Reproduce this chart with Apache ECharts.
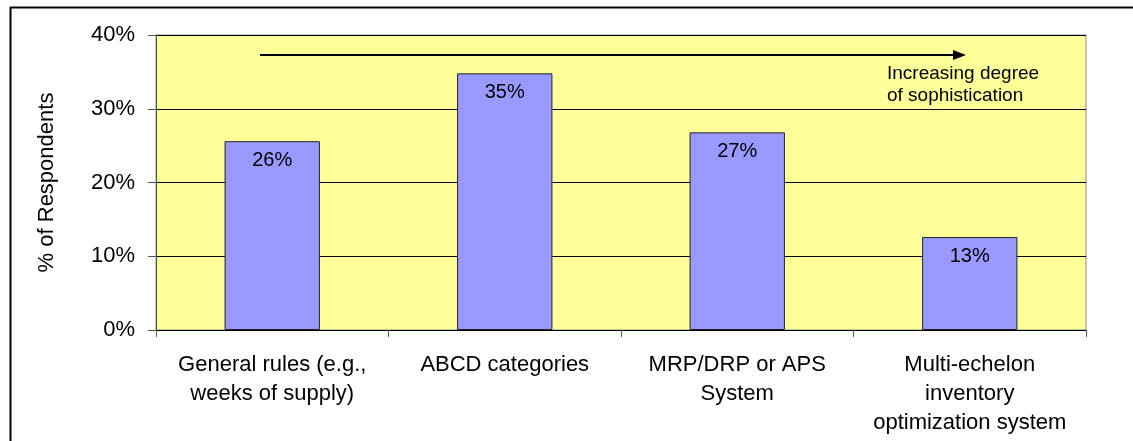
<!DOCTYPE html>
<html>
<head>
<meta charset="utf-8">
<style>
  html, body { margin: 0; padding: 0; background: #ffffff; }
  #chart { width: 1133px; height: 441px; }
</style>
<script src="https://cdn.jsdelivr.net/npm/echarts@6/dist/echarts.min.js"></script>
</head>
<body>
<div id="chart"></div>
<script>
// Inventory-planning approach used, share of respondents (%)
const categories = [
  'General rules (e.g.,\nweeks of supply)',
  'ABCD categories',
  'MRP/DRP or APS\nSystem',
  'Multi-echelon\ninventory\noptimization system'
];
const respondentShare = [25.6, 34.8, 26.8, 12.6];
const yTicks = [0, 10, 20, 30, 40];
const axisTitle = '% of Respondents';
const arrowNote = 'Increasing degree\nof sophistication';

const FONT = '"Liberation Sans", Arial, sans-serif';

const chart = echarts.init(document.getElementById('chart'), null, { renderer: 'canvas' });

chart.setOption({
  backgroundColor: '#ffffff',
  animation: false,
  textStyle: { fontFamily: FONT, color: '#000' },
  grid: {
    left: 156, right: 47, top: 35, bottom: 111,
    show: true,
    backgroundColor: '#FFFF99',
    borderColor: '#8c8c8c',
    borderWidth: 1
  },
  xAxis: {
    type: 'category',
    data: categories,
    boundaryGap: true,
    axisLine: { show: true, lineStyle: { color: '#000', width: 1 } },
    axisTick: { show: true, length: 7, lineStyle: { color: '#555' } },
    axisLabel: {
      interval: 0,
      margin: 20,
      fontSize: 22,
      lineHeight: 29,
      color: '#000',
      fontFamily: FONT,
      align: 'center',
      verticalAlign: 'top'
    }
  },
  yAxis: {
    type: 'value',
    min: yTicks[0],
    max: yTicks[yTicks.length - 1],
    interval: 10,
    name: axisTitle,
    nameLocation: 'middle',
    nameGap: 98,
    nameRotate: 90,
    nameTextStyle: { fontSize: 22, color: '#000', fontFamily: FONT },
    axisLine: { show: true, lineStyle: { color: '#555', width: 1 } },
    axisTick: { show: true, length: 8, lineStyle: { color: '#555' } },
    axisLabel: {
      margin: 21,
      fontSize: 22,
      color: '#000',
      fontFamily: FONT,
      formatter: v => v + '%'
    },
    splitLine: { show: true, lineStyle: { color: '#000', width: 1 } }
  },
  series: [{
    type: 'bar',
    data: respondentShare,
    barWidth: '41%',
    itemStyle: { color: '#9999FF', borderColor: '#222', borderWidth: 1 },
    label: {
      show: true,
      position: 'insideTop',
      distance: 9,
      fontSize: 20,
      color: '#000',
      fontFamily: FONT,
      formatter: p => Math.round(p.value) + '%'
    }
  }],
  graphic: [
    // frame around the chart (top and left edges)
    { type: 'line', shape: { x1: 10, y1: 7.5, x2: 1133, y2: 7.5 }, style: { stroke: '#000', lineWidth: 2 }, z: 100 },
    { type: 'line', shape: { x1: 10.5, y1: 7, x2: 10.5, y2: 441 }, style: { stroke: '#000', lineWidth: 2 }, z: 100 },
    // sophistication arrow
    { type: 'line', shape: { x1: 260, y1: 55, x2: 956, y2: 55 }, style: { stroke: '#000', lineWidth: 2 }, z: 100 },
    { type: 'polygon', shape: { points: [[953, 50], [966, 55], [953, 60]] }, style: { fill: '#000' }, z: 100 },
    {
      type: 'text', left: 887, top: 63, z: 100,
      style: { text: arrowNote, fontSize: 19, lineHeight: 22, fill: '#000', fontFamily: FONT }
    }
  ]
});
</script>
</body>
</html>
